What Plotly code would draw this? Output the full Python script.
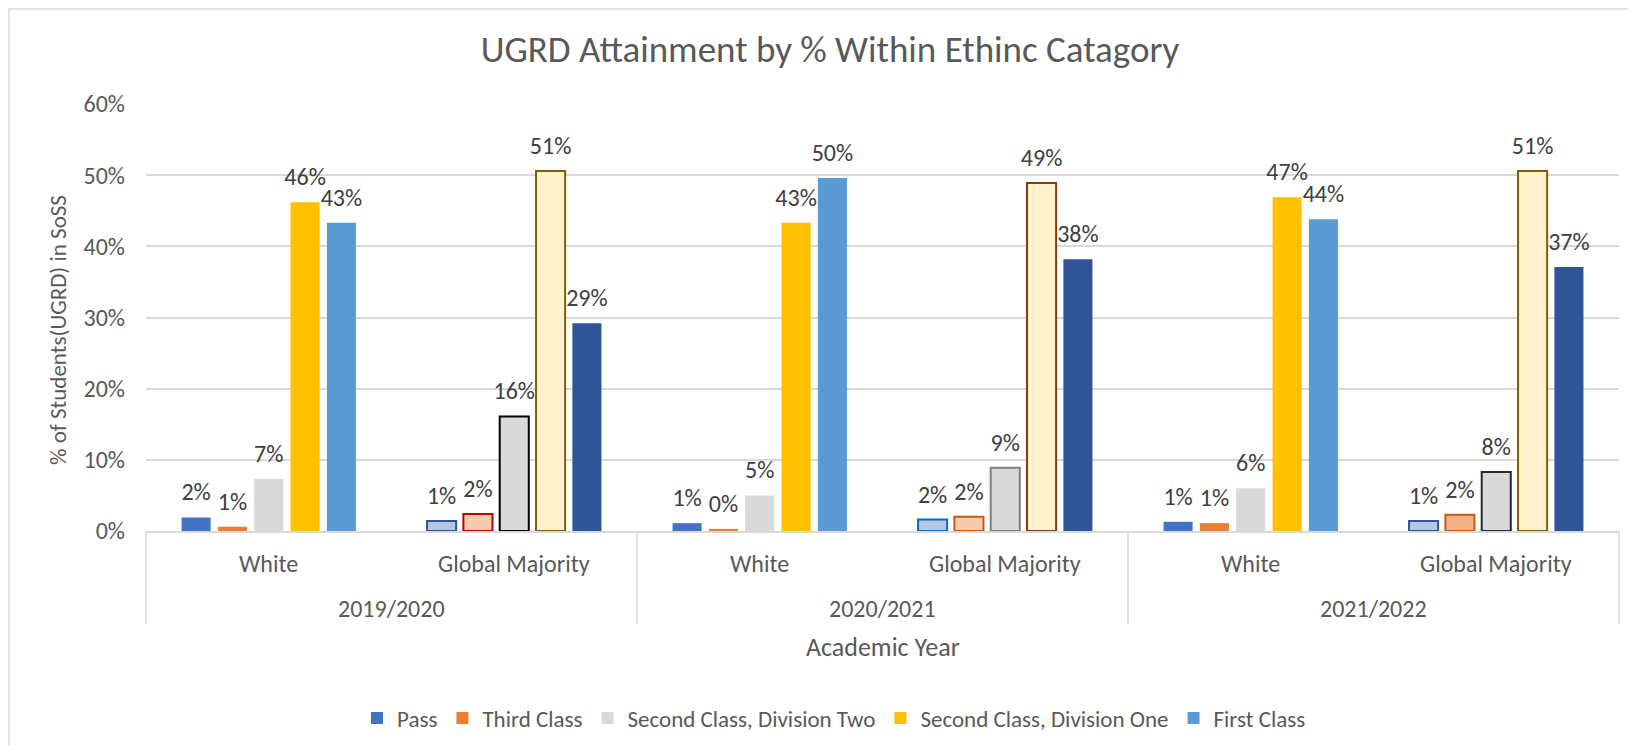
import plotly.graph_objects as go

# ---- data ----
years = ["2019/2020", "2020/2021", "2021/2022"]
groups = ["White", "Global Majority"]
series_names = ["Pass", "Third Class", "Second Class, Division Two",
                "Second Class, Division One", "First Class"]
# order: 2019 White, 2019 GM, 2020 White, 2020 GM, 2021 White, 2021 GM
pass_vals = [0.019, 0.014, 0.011, 0.016, 0.013, 0.014]
third_vals = [0.006, 0.024, 0.003, 0.020, 0.011, 0.023]
div_two_vals = [0.073, 0.161, 0.050, 0.089, 0.060, 0.083]
div_one_vals = [0.462, 0.506, 0.433, 0.489, 0.469, 0.506]
first_vals = [0.433, 0.292, 0.496, 0.382, 0.438, 0.371]
y_ticks = [0, 0.1, 0.2, 0.3, 0.4, 0.5, 0.6]

# ---- styles ----
FONT = "Calibri, Carlito, Lato, sans-serif"
TXT = "#595959"
fills = [
    ["#4472C4", "#B4C7E7", "#4472C4", "#B4C7E7", "#4472C4", "#B4C7E7"],
    ["#ED7D31", "#F8CBAD", "#ED7D31", "#F8CBAD", "#ED7D31", "#F4B183"],
    ["#D9D9D9", "#D9D9D9", "#D9D9D9", "#D9D9D9", "#D9D9D9", "#D9D9D9"],
    ["#FFC000", "#FFF2CC", "#FFC000", "#FFF2CC", "#FFC000", "#FFF2CC"],
    ["#5B9BD5", "#2F5597", "#5B9BD5", "#2F5597", "#5B9BD5", "#2F5597"],
]
outlines = [
    ["#4472C4", "#2F5597", "#4472C4", "#0070C0", "#4472C4", "#2F5597"],
    ["#ED7D31", "#C00000", "#ED7D31", "#C55A11", "#ED7D31", "#C55A11"],
    ["#D9D9D9", "#000000", "#D9D9D9", "#7F7F7F", "#D9D9D9", "#222A35"],
    ["#FFC000", "#7F6000", "#FFC000", "#843C0C", "#FFC000", "#7F6000"],
    ["#5B9BD5", "#2F5597", "#5B9BD5", "#2F5597", "#5B9BD5", "#2F5597"],
]
outline_w = [
    [0, 2, 0, 2, 0, 2],
    [0, 2, 0, 2, 0, 2],
    [0, 2, 0, 2, 0, 2],
    [0, 2, 0, 2, 0, 2],
    [0, 0, 0, 0, 0, 0],
]

x_outer = [y for y in years for g in groups]
x_inner = [g for y in years for g in groups]
all_vals = [pass_vals, third_vals, div_two_vals, div_one_vals, first_vals]

BARGAP = 0.26
fig = go.Figure()
for i, (name, vals) in enumerate(zip(series_names, all_vals)):
    fig.add_trace(go.Bar(
        name=name, x=[x_outer, x_inner], y=vals,
        offsetgroup=str(i), legendgroup=str(i),
        marker=dict(color=fills[i], line=dict(color=outlines[i], width=outline_w[i])),
        hoverinfo="x+y",
    ))
# data labels placed above bars (grouped the same way as the bars)
for i, (name, vals) in enumerate(zip(series_names, all_vals)):
    fig.add_trace(go.Scatter(
        name=name, x=[x_outer, x_inner], y=vals,
        offsetgroup=str(i), legendgroup=str(i), showlegend=False,
        mode="markers+text", marker=dict(size=16, opacity=0, color="white"),
        text=[f"{v:.0%}" for v in vals], textposition="top center",
        textfont=dict(family=FONT, size=24, color="#404040"),
        cliponaxis=False, hoverinfo="skip",
    ))

# page has an 8px body margin -> figure drawn at (8, 8)
W, H = 1620, 737
plot_l, plot_r, plot_t, plot_b = 138, 1611, 96, 523
ph = plot_b - plot_t
pw = plot_r - plot_l


def py(fig_y):
    return (plot_b - fig_y) / ph


def px(fig_x):
    return (fig_x - plot_l) / pw


annotations = []
n_cat = len(x_inner)
for k, g in enumerate(x_inner):
    annotations.append(dict(text=g, xref="paper", yref="paper", x=(k + 0.5) / n_cat,
                            y=py(555), xanchor="center", yanchor="middle", showarrow=False,
                            font=dict(family=FONT, size=24, color=TXT)))
for j, yr in enumerate(years):
    annotations.append(dict(text=yr, xref="paper", yref="paper", x=(j + 0.5) / len(years),
                            y=py(600), xanchor="center", yanchor="middle", showarrow=False,
                            font=dict(family=FONT, size=24, color=TXT)))
annotations.append(dict(text="Academic Year", xref="paper", yref="paper", x=0.5, y=py(639),
                        xanchor="center", yanchor="middle", showarrow=False,
                        font=dict(family=FONT, size=26, color=TXT)))
annotations.append(dict(text="% of Students(UGRD) in SoSS", xref="paper", yref="paper",
                        x=px(50), y=py(322), xanchor="center", yanchor="middle",
                        textangle=-90, showarrow=False,
                        font=dict(family=FONT, size=23, color=TXT)))

shapes = [dict(type="line", xref="paper", yref="paper", x0=j / len(years), x1=j / len(years),
               y0=0, y1=py(616), line=dict(color="#D9D9D9", width=1.5))
          for j in range(len(years) + 1)]
shapes.append(dict(type="rect", xref="paper", yref="paper",
                   x0=px(1), x1=1.2, y0=-1.0, y1=py(1),
                   line=dict(color="#D9D9D9", width=1.5), fillcolor="rgba(0,0,0,0)",
                   layer="below"))

fig.update_layout(
    width=W, height=H,
    margin=dict(l=plot_l, r=W - plot_r, t=plot_t, b=H - plot_b, autoexpand=False),
    paper_bgcolor="white", plot_bgcolor="white",
    barmode="group", bargap=BARGAP, bargroupgap=0.2,
    scattermode="group", scattergap=BARGAP,
    font=dict(family=FONT, color=TXT),
    title=dict(text="UGRD Attainment by % Within Ethinc Catagory",
               x=822 / W, xanchor="center", y=1 - 41 / H, yanchor="middle",
               font=dict(family=FONT, size=37, color=TXT)),
    showlegend=True,
    legend=dict(orientation="h", x=px(826), xanchor="center",
                y=py(710), yanchor="middle",
                font=dict(family=FONT, size=23, color=TXT),
                traceorder="normal"),
    yaxis=dict(range=[0, 0.6], tickvals=y_ticks, tickformat=".0%",
               showgrid=True, gridcolor="#D9D9D9", gridwidth=1.5,
               zeroline=False, showline=False, ticks="",
               ticklabelstandoff=20,
               tickfont=dict(family=FONT, size=24, color=TXT)),
    xaxis=dict(type="multicategory", showline=True, linecolor="#D9D9D9", linewidth=1.5,
               showgrid=False, ticks="", showticklabels=False, showdividers=False),
    annotations=annotations,
    shapes=shapes,
)

fig.write_html("out.html")
